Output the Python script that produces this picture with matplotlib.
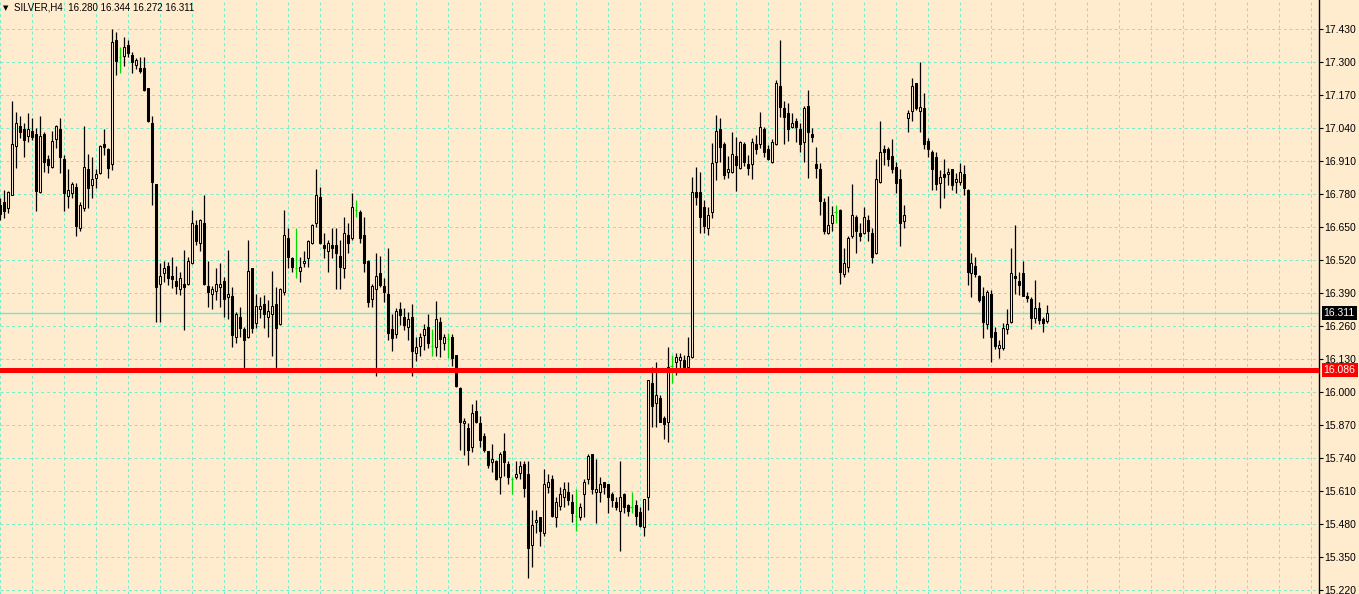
import matplotlib
matplotlib.use('Agg')
import matplotlib.pyplot as plt

# SILVER H4 candles, oldest first
symbol = 'SILVER,H4'
opens = [
    16.736, 16.748, 16.725, 16.776, 16.969, 17.048, 17.036, 17.008, 17.028, 17.016,
    16.788, 17.016, 16.918, 16.886, 16.997, 17.036, 16.918, 16.772, 16.784, 16.807,
    16.646, 16.725, 16.878, 16.815, 16.843, 16.862, 16.977, 16.957, 16.898, 17.387,
    17.320, 17.324, 17.367, 17.328, 17.288, 17.276, 17.276, 17.197, 17.059, 16.819,
    16.425, 16.469, 16.496, 16.457, 16.437, 16.406, 16.425, 16.425, 16.508, 16.658,
    16.587, 16.666, 16.417, 16.386, 16.398, 16.413, 16.437, 16.374, 16.378, 16.216,
    16.295, 16.248, 16.216, 16.488, 16.272, 16.327, 16.346, 16.295, 16.307, 16.346,
    16.268, 16.394, 16.607, 16.528, 16.488, 16.476, 16.508, 16.528, 16.587, 16.666,
    16.768, 16.579, 16.555, 16.579, 16.579, 16.536, 16.488, 16.618, 16.607, 16.717,
    16.709, 16.618, 16.516, 16.366, 16.406, 16.469, 16.417, 16.386, 16.248, 16.228,
    16.327, 16.295, 16.256, 16.295, 16.154, 16.181, 16.224, 16.256, 16.181, 16.177,
    16.276, 16.193, 16.209, 16.216, 16.146, 16.016, 15.878, 15.858, 15.783, 15.925,
    15.878, 15.826, 15.767, 15.724, 15.728, 15.665, 15.767, 15.716, 15.657, 15.665,
    15.681, 15.716, 15.677, 15.397, 15.488, 15.507, 15.444, 15.625, 15.657, 15.507,
    15.551, 15.586, 15.606, 15.566, 15.511, 15.507, 15.598, 15.657, 15.755, 15.606,
    15.606, 15.645, 15.637, 15.598, 15.566, 15.531, 15.598, 15.555, 15.547, 15.555,
    15.527, 15.468, 15.586, 16.035, 15.956, 15.976, 15.897, 15.882, 16.102, 16.118,
    16.126, 16.126, 16.098, 16.138, 16.788, 16.788, 16.729, 16.646, 16.709, 16.906,
    17.036, 16.977, 16.866, 16.866, 16.930, 16.882, 16.977, 16.898, 16.898, 16.977,
    16.977, 17.036, 16.957, 16.906, 16.977, 17.205, 17.119, 17.099, 17.044, 17.067,
    17.036, 16.985, 17.127, 17.016, 16.898, 16.878, 16.748, 16.626, 16.666, 16.709,
    16.717, 16.465, 16.492, 16.614, 16.689, 16.626, 16.626, 16.677, 16.626, 16.547,
    16.827, 16.957, 16.957, 16.930, 16.886, 16.839, 16.673, 17.079, 17.107, 17.217,
    17.107, 17.119, 16.989, 16.945, 16.926, 16.823, 16.858, 16.858, 16.878, 16.827,
    16.827, 16.858, 16.796, 16.469, 16.496, 16.457, 16.378, 16.268, 16.386, 16.236,
    16.173, 16.173, 16.248, 16.276, 16.457, 16.437, 16.469, 16.378, 16.366, 16.291,
    16.331, 16.287, 16.280]
highs = [
    16.764, 16.796, 16.790, 17.146, 17.103, 17.087, 17.059, 17.099, 17.079, 17.040,
    17.087, 17.024, 16.934, 17.028, 17.052, 17.079, 16.934, 16.878, 16.827, 16.823,
    16.748, 17.048, 16.937, 16.926, 16.878, 16.971, 17.036, 16.961, 17.430, 17.418,
    17.359, 17.398, 17.387, 17.339, 17.316, 17.320, 17.320, 17.198, 17.087, 16.820,
    16.508, 16.516, 16.512, 16.532, 16.496, 16.472, 16.559, 16.532, 16.717, 16.677,
    16.681, 16.776, 16.516, 16.417, 16.488, 16.508, 16.453, 16.559, 16.413, 16.315,
    16.335, 16.256, 16.599, 16.490, 16.386, 16.374, 16.382, 16.362, 16.476, 16.413,
    16.410, 16.717, 16.646, 16.532, 16.646, 16.532, 16.555, 16.599, 16.660, 16.878,
    16.807, 16.626, 16.599, 16.646, 16.646, 16.599, 16.689, 16.666, 16.784, 16.756,
    16.717, 16.689, 16.518, 16.425, 16.547, 16.536, 16.449, 16.567, 16.307, 16.331,
    16.354, 16.331, 16.315, 16.346, 16.216, 16.232, 16.268, 16.307, 16.248, 16.358,
    16.295, 16.228, 16.232, 16.228, 16.147, 16.020, 15.897, 15.878, 15.952, 15.968,
    15.905, 15.838, 15.769, 15.795, 15.732, 15.763, 15.838, 15.728, 15.665, 15.728,
    15.728, 15.728, 15.728, 15.535, 15.535, 15.507, 15.696, 15.677, 15.673, 15.586,
    15.625, 15.645, 15.645, 15.598, 15.618, 15.563, 15.657, 15.755, 15.757, 15.736,
    15.665, 15.647, 15.639, 15.606, 15.586, 15.728, 15.600, 15.557, 15.606, 15.574,
    15.547, 15.580, 16.049, 16.098, 16.118, 15.988, 15.905, 16.177, 16.146, 16.154,
    16.154, 16.146, 16.216, 16.847, 16.886, 16.866, 16.756, 16.729, 16.981, 17.091,
    17.079, 16.985, 16.930, 17.024, 17.004, 16.989, 16.985, 16.934, 17.000, 17.012,
    17.103, 17.044, 16.973, 16.997, 17.229, 17.387, 17.146, 17.138, 17.099, 17.079,
    17.059, 17.127, 17.190, 17.040, 16.965, 16.902, 16.764, 16.772, 16.732, 16.736,
    16.721, 16.567, 16.614, 16.819, 16.697, 16.666, 16.729, 16.697, 16.646, 16.918,
    17.067, 16.973, 16.965, 16.997, 16.906, 16.878, 16.736, 17.111, 17.237, 17.219,
    17.300, 17.178, 17.000, 16.953, 16.945, 16.874, 16.918, 16.882, 16.880, 16.862,
    16.902, 16.894, 16.798, 16.547, 16.532, 16.459, 16.413, 16.402, 16.402, 16.256,
    16.205, 16.272, 16.327, 16.567, 16.658, 16.472, 16.516, 16.394, 16.374, 16.441,
    16.354, 16.295, 16.344]
lows = [
    16.677, 16.685, 16.705, 16.774, 16.882, 17.000, 16.926, 16.985, 16.993, 16.713,
    16.784, 16.866, 16.862, 16.882, 16.961, 16.862, 16.713, 16.725, 16.764, 16.614,
    16.634, 16.713, 16.725, 16.764, 16.803, 16.858, 16.934, 16.843, 16.874, 17.249,
    17.256, 17.284, 17.320, 17.256, 17.272, 17.256, 17.186, 17.063, 16.736, 16.276,
    16.276, 16.433, 16.421, 16.410, 16.386, 16.382, 16.244, 16.421, 16.504, 16.579,
    16.555, 16.421, 16.335, 16.327, 16.362, 16.335, 16.295, 16.287, 16.177, 16.193,
    16.216, 16.090, 16.213, 16.232, 16.252, 16.291, 16.252, 16.216, 16.142, 16.090,
    16.264, 16.382, 16.488, 16.472, 16.449, 16.433, 16.492, 16.492, 16.583, 16.650,
    16.583, 16.528, 16.472, 16.528, 16.406, 16.406, 16.449, 16.547, 16.599, 16.689,
    16.587, 16.472, 16.335, 16.335, 16.063, 16.413, 16.354, 16.205, 16.161, 16.213,
    16.264, 16.244, 16.205, 16.063, 16.122, 16.142, 16.165, 16.173, 16.142, 16.142,
    16.138, 16.165, 16.134, 16.102, 16.020, 15.771, 15.752, 15.712, 15.763, 15.878,
    15.783, 15.763, 15.700, 15.685, 15.653, 15.598, 15.669, 15.637, 15.598, 15.657,
    15.657, 15.586, 15.267, 15.310, 15.444, 15.393, 15.432, 15.602, 15.507, 15.468,
    15.535, 15.547, 15.555, 15.488, 15.452, 15.496, 15.507, 15.637, 15.598, 15.484,
    15.566, 15.598, 15.523, 15.547, 15.535, 15.373, 15.523, 15.511, 15.523, 15.476,
    15.468, 15.432, 15.535, 15.862, 15.862, 15.880, 15.815, 15.803, 16.035, 16.067,
    16.094, 16.090, 16.094, 16.134, 16.736, 16.626, 16.626, 16.618, 16.685, 16.835,
    16.906, 16.839, 16.843, 16.862, 16.792, 16.880, 16.890, 16.855, 16.839, 16.937,
    16.961, 16.926, 16.914, 16.902, 16.973, 17.083, 16.977, 16.989, 17.040, 16.985,
    16.945, 16.906, 16.843, 16.985, 16.843, 16.697, 16.622, 16.622, 16.634, 16.666,
    16.425, 16.453, 16.472, 16.607, 16.547, 16.595, 16.622, 16.595, 16.508, 16.543,
    16.823, 16.894, 16.890, 16.862, 16.784, 16.575, 16.646, 17.024, 17.067, 17.111,
    17.024, 16.957, 16.926, 16.796, 16.796, 16.725, 16.764, 16.815, 16.796, 16.784,
    16.815, 16.776, 16.421, 16.374, 16.453, 16.354, 16.213, 16.248, 16.118, 16.169,
    16.134, 16.165, 16.228, 16.272, 16.386, 16.382, 16.376, 16.354, 16.248, 16.272,
    16.268, 16.236, 16.272]
closes = [
    16.701, 16.713, 16.788, 16.977, 17.059, 17.024, 16.993, 17.036, 17.004, 16.792,
    17.008, 16.906, 16.894, 16.989, 17.048, 16.926, 16.784, 16.796, 16.819, 16.654,
    16.736, 16.886, 16.803, 16.839, 16.858, 16.969, 16.965, 16.882, 17.379, 17.304,
    17.320, 17.359, 17.335, 17.300, 17.308, 17.264, 17.190, 17.067, 16.827, 16.413,
    16.457, 16.488, 16.449, 16.445, 16.417, 16.449, 16.413, 16.516, 16.666, 16.595,
    16.677, 16.425, 16.394, 16.406, 16.425, 16.425, 16.366, 16.386, 16.224, 16.307,
    16.252, 16.205, 16.476, 16.252, 16.339, 16.339, 16.307, 16.319, 16.339, 16.252,
    16.406, 16.618, 16.532, 16.492, 16.488, 16.492, 16.516, 16.595, 16.658, 16.776,
    16.587, 16.567, 16.587, 16.567, 16.547, 16.492, 16.626, 16.587, 16.729, 16.717,
    16.607, 16.508, 16.354, 16.417, 16.457, 16.421, 16.394, 16.232, 16.213, 16.319,
    16.303, 16.264, 16.287, 16.161, 16.177, 16.216, 16.248, 16.193, 16.181, 16.287,
    16.209, 16.216, 16.209, 16.134, 16.024, 15.882, 15.885, 15.771, 15.917, 15.882,
    15.811, 15.771, 15.712, 15.736, 15.657, 15.755, 15.724, 15.665, 15.657, 15.677,
    15.708, 15.622, 15.385, 15.476, 15.496, 15.452, 15.637, 15.645, 15.511, 15.566,
    15.598, 15.618, 15.574, 15.523, 15.511, 15.547, 15.645, 15.748, 15.618, 15.618,
    15.637, 15.625, 15.586, 15.574, 15.547, 15.586, 15.547, 15.531, 15.547, 15.511,
    15.472, 15.578, 16.047, 15.944, 15.988, 15.882, 15.874, 16.098, 16.102, 16.138,
    16.138, 16.094, 16.142, 16.788, 16.768, 16.689, 16.654, 16.697, 16.902, 17.028,
    16.965, 16.855, 16.878, 16.937, 16.894, 16.985, 16.906, 16.882, 16.985, 16.957,
    17.044, 16.945, 16.918, 16.985, 17.217, 17.123, 17.083, 17.036, 17.059, 17.044,
    16.977, 17.119, 17.024, 17.004, 16.882, 16.752, 16.634, 16.658, 16.697, 16.709,
    16.472, 16.508, 16.607, 16.697, 16.634, 16.614, 16.689, 16.634, 16.532, 16.839,
    16.945, 16.945, 16.918, 16.878, 16.823, 16.666, 16.697, 17.099, 17.205, 17.119,
    17.123, 16.977, 16.957, 16.878, 16.819, 16.847, 16.847, 16.866, 16.815, 16.839,
    16.866, 16.803, 16.472, 16.508, 16.465, 16.362, 16.276, 16.394, 16.216, 16.181,
    16.185, 16.252, 16.268, 16.469, 16.449, 16.421, 16.378, 16.370, 16.291, 16.331,
    16.283, 16.272, 16.311]

level_price = 16.086   # red horizontal level
ytick_values = [15.220, 15.350, 15.480, 15.610, 15.740, 15.870, 16.000, 16.130, 16.260,
                16.390, 16.520, 16.650, 16.780, 16.910, 17.040, 17.170, 17.300, 17.430]

bg = '#FFEBCD'
gridc = '#74EECB'

fig = plt.figure(figsize=(13.59, 5.94), dpi=100, facecolor=bg)
ax = fig.add_axes([0, 0, 1319 / 1359, 1], facecolor=bg)

for i in range(len(opens)):
    o, h, l, c = opens[i], highs[i], lows[i], closes[i]
    if o == c:
        ax.vlines(i, l, h, color='#00DD00', lw=0.9, zorder=3)
        ax.hlines(o, i - 0.3, i + 0.3, color='#00DD00', lw=0.9, zorder=3)
        continue
    ax.vlines(i, l, h, color='black', lw=0.9, zorder=2)
    face = bg if c > o else 'black'
    ax.bar(i, abs(c - o), bottom=min(o, c), width=0.5, color=face,
           edgecolor='black', linewidth=0.75, zorder=3)

ax.axhline(closes[-1], color='#66F0C8', lw=1.0, zorder=1.5)
ax.axhline(level_price, color='red', lw=3.6, zorder=5)

ax.set_xlim(0.1675, 329.92)
ax.set_ylim(15.204, 17.544)
ax.set_xticks(range(0, 330, 8))
ax.set_yticks(ytick_values)
ax.set_yticklabels(['%.3f' % v for v in ytick_values])
ax.grid(True, color=gridc, linestyle=(0, (3, 3)), linewidth=0.7, zorder=0)
ax.set_axisbelow(True)
ax.tick_params(axis='x', length=0, labelbottom=False)
ax.yaxis.tick_right()
ax.tick_params(axis='y', direction='out', length=3, width=0.8, pad=1,
               labelsize=7.5, labelcolor='black')
for lab in ax.get_yticklabels():
    lab.set_family(['Liberation Sans', 'DejaVu Sans'])
for s in ['left', 'top', 'bottom']:
    ax.spines[s].set_visible(False)
ax.spines['right'].set_linewidth(1.0)

# price boxes on the scale
for price, fc in [(closes[-1], 'black'), (level_price, 'red')]:
    ax.text(1.0035, price, '%.3f' % price, transform=ax.get_yaxis_transform(),
            ha='left', va='center', fontsize=7.5, color='white', zorder=6,
            family=['Liberation Sans', 'DejaVu Sans'],
            bbox=dict(boxstyle='square,pad=0.2', fc=fc, ec='none'))

# header
fig.text(3 / 1359, 1 - 8 / 594, '\u25BC', fontsize=5, va='center', ha='left',
         family='DejaVu Sans')
fig.text(14 / 1359, 1 - 8 / 594,
         '%s  %.3f %.3f %.3f %.3f' % (symbol, opens[-1], highs[-1], lows[-1], closes[-1]),
         fontsize=7, va='center', ha='left', family=['Liberation Sans', 'DejaVu Sans'])

fig.savefig('out.png', dpi=100, facecolor=bg)
